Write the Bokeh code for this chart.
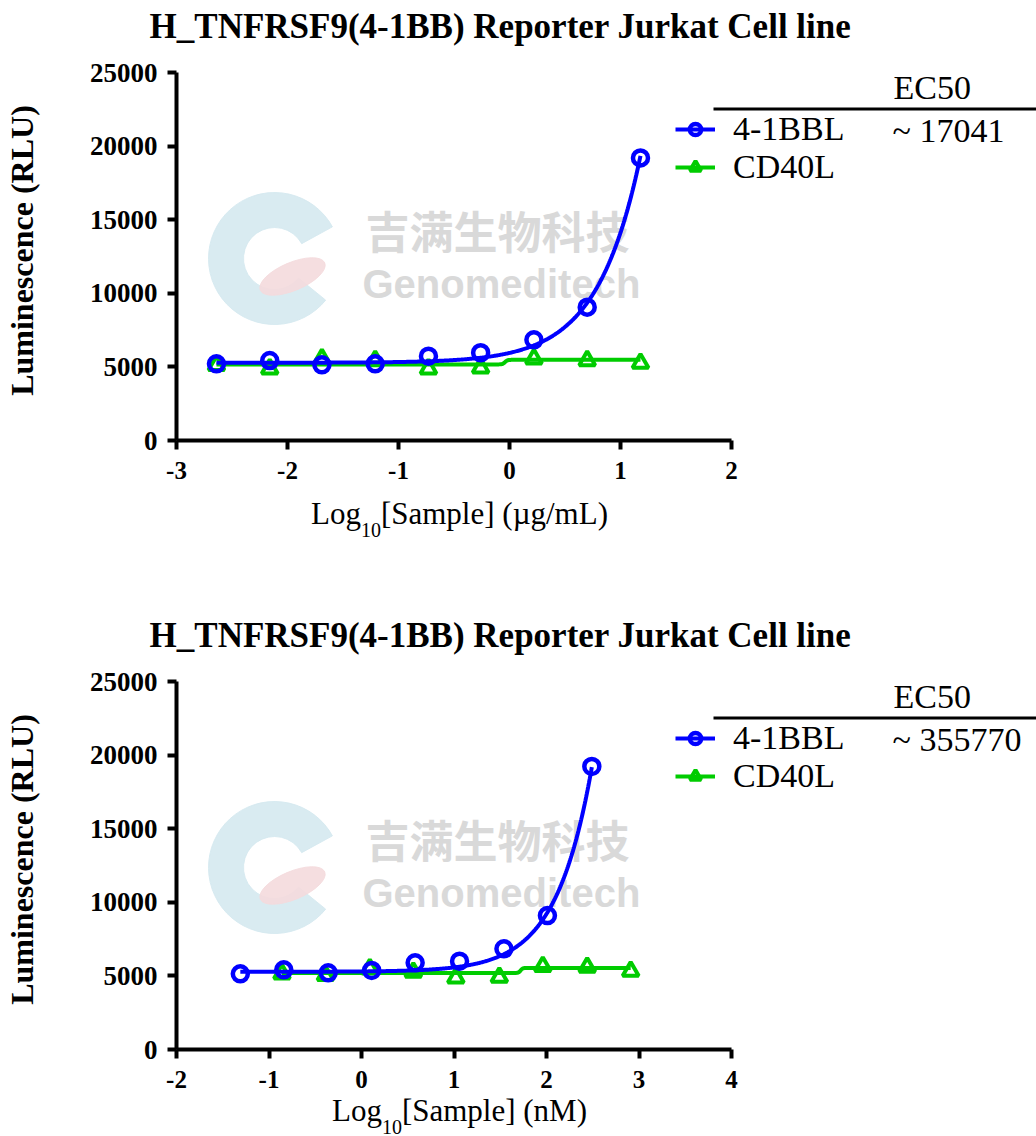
import numpy as np
from bokeh.plotting import figure
from bokeh.models import Range1d, FixedTicker, Label, BoxAnnotation, Legend, LegendItem
from bokeh.layouts import column
from bokeh.embed import file_html
from bokeh.resources import INLINE

TITLE = "H_TNFRSF9(4-1BB) Reporter Jurkat Cell line"
Y_LABEL = "Luminescence (RLU)"
y_ticks = [0, 5000, 10000, 15000, 20000, 25000]
series_names = ["4-1BBL", "CD40L"]

# ---- chart 1 : concentration in ug/mL ----
c1_x_ticks = [-3, -2, -1, 0, 1, 2]
c1_unit = "[Sample] (\u00b5g/mL)"
c1_bbl_logx = [-2.64, -2.16, -1.69, -1.21, -0.73, -0.26, 0.22, 0.70, 1.18]
c1_bbl_rlu = [5210, 5430, 5140, 5210, 5730, 5960, 6840, 9060, 19200]
c1_cd40_logx = [-2.64, -2.16, -1.69, -1.21, -0.73, -0.26, 0.22, 0.70, 1.18]
c1_cd40_rlu = [5100, 4870, 5550, 5430, 4870, 4940, 5550, 5430, 5250]
c1_ec50 = "~ 17041"
# 4PL fits: bottom, span, logEC50, hill slope
c1_bbl_fit = (5280, 3.68e7, 4.2315, 1.12)
c1_cd40_fit = (5170, 310, -0.04, 40)

# ---- chart 2 : concentration in nM ----
c2_x_ticks = [-2, -1, 0, 1, 2, 3, 4]
c2_unit = "[Sample] (nM)"
c2_bbl_logx = [-1.31, -0.84, -0.36, 0.11, 0.58, 1.06, 1.54, 2.01, 2.49]
c2_bbl_rlu = [5140, 5410, 5210, 5370, 5890, 6000, 6840, 9100, 19230]
c2_cd40_logx = [-0.86, -0.39, 0.09, 0.56, 1.02, 1.49, 1.96, 2.44, 2.91]
c2_cd40_rlu = [5140, 5030, 5480, 5250, 4870, 4910, 5640, 5590, 5320]
c2_ec50 = "~ 355770"
c2_bbl_fit = (5280, 3.73e7, 5.5512, 1.12)
c2_cd40_fit = (5200, 340, 1.72, 40)

BLUE = "#0000FF"
GREEN = "#00CC00"
SERIF = "Liberation Serif"
W = 1036
AX_L, AX_R = 176, 731      # pixel position of the x-axis ends
AX_H = 368                 # pixel height of the y-axis


def four_pl(x, fit):
    b, span, logec, h = fit
    return b + span / (1.0 + 10.0 ** ((logec - x) * h))


def make_chart(xlim, x_ticks, unit, bx, by, cx, cy, bfit, cfit, ec50,
               height, ax_top, xlabel_dy):
    ax_bot = ax_top + AX_H
    x0, x1 = xlim
    kx = (x1 - x0) / (AX_R - AX_L)
    ky = 25000.0 / AX_H
    xr = Range1d(x0 - AX_L * kx, x1 + (W - AX_R) * kx)
    yr = Range1d(-(height - ax_bot) * ky, 25000 + ax_top * ky)
    p = figure(width=W, height=height, x_range=xr, y_range=yr, title=None,
               output_backend="svg", toolbar_location=None, min_border=0)
    p.min_border_left = p.min_border_right = 0
    p.min_border_top = p.min_border_bottom = 0
    p.outline_line_color = None
    p.grid.visible = False
    p.background_fill_color = "white"

    def pos(dx, dy):
        # offsets from the top-left corner of the axes, in pixels (down = +)
        return AX_L + dx, height - (ax_top + dy)

    def label(dx, dy, text, size, bold=False, **kw):
        # dy is the bottom edge of the text box
        x, y = pos(dx, dy)
        p.add_layout(Label(x=x, y=y, x_units="screen", y_units="screen",
                           text=text, text_font=kw.pop("font", SERIF),
                           text_font_style="bold" if bold else "normal",
                           text_font_size=f"{size}px",
                           text_color=kw.pop("color", "black"), **kw))

    # watermark (underlay)
    p.annular_wedge(x=[x0 + 98 * kx], y=[25000 - 186 * ky], inner_radius=31,
                    outer_radius=66, inner_radius_units="screen",
                    outer_radius_units="screen", start_angle=0.5,
                    end_angle=5.6, color="#d5e9f0", alpha=0.9, level="underlay")
    p.ellipse(x=[x0 + 116 * kx], y=[25000 - 204 * ky], width=70, height=28,
              width_units="screen", height_units="screen", angle=0.4,
              color="#f4dadd", alpha=0.9, level="underlay")
    label(189, 189, "\u5409\u6ee1\u751f\u7269\u79d1\u6280", 44, True,
          font="Noto Sans CJK SC", color="#d9d9d9", level="underlay")
    label(186, 233, "Genomeditech", 40, True, font="Liberation Sans",
          color="#d9d9d9", level="underlay")

    # data
    cgrid = np.linspace(min(cx), max(cx), 500)
    bgrid = np.linspace(min(bx), max(bx), 500)
    cl = p.line(cgrid, four_pl(cgrid, cfit), line_color=GREEN, line_width=4)
    cs = p.scatter(cx, cy, marker="triangle", size=16, line_color=GREEN,
                   line_width=4, fill_color=None)
    bl = p.line(bgrid, four_pl(bgrid, bfit), line_color=BLUE, line_width=4)
    bs = p.scatter(bx, by, marker="circle", size=15, line_color=BLUE,
                   line_width=4.5, fill_color=None)

    # axes drawn at fixed data locations, limited to the data window
    p.xaxis.fixed_location = 0
    p.yaxis.fixed_location = x0
    p.xaxis.bounds = (x0, x1)
    p.yaxis.bounds = (0, 25000)
    p.xaxis.ticker = FixedTicker(ticks=x_ticks)
    p.yaxis.ticker = FixedTicker(ticks=y_ticks)
    p.xaxis.major_label_overrides = {t: str(t) for t in x_ticks}
    for ax in (p.xaxis, p.yaxis):
        ax.axis_line_width = 4
        ax.major_tick_line_width = 4
        ax.major_tick_out = 9
        ax.major_tick_in = 0
        ax.minor_tick_out = 0
        ax.minor_tick_in = 0
        ax.major_label_text_font = SERIF
        ax.major_label_text_font_style = "bold"
        ax.major_label_text_color = "black"
    p.xaxis.major_label_text_font_size = "25px"
    p.yaxis.major_label_text_font_size = "27px"
    p.xaxis.major_label_standoff = 12
    p.yaxis.major_label_standoff = 10

    # title and axis labels
    label(324, -26.5, TITLE, 35, True, text_align="center")
    label(-137, 178, Y_LABEL, 32, True, angle=np.pi / 2, text_align="center")
    fs = 31
    w_log = 1.611 * fs
    w_sub = 20
    rest_em = {"[Sample] (\u00b5g/mL)": 7.325, "[Sample] (nM)": 5.971}
    w_rest = rest_em[unit] * fs
    lx = 283 - (w_log + w_sub + w_rest) / 2
    label(lx, xlabel_dy, "Log", fs)
    label(lx + w_log, xlabel_dy + 6, "10", 20)
    label(lx + w_log + w_sub, xlabel_dy, unit, fs)

    # legend with EC50 column
    lgx, lgy = pos(499, 114)
    legend = Legend(items=[LegendItem(label=series_names[0], renderers=[bl, bs]),
                           LegendItem(label=series_names[1], renderers=[cl, cs])],
                    location=(lgx, lgy), glyph_width=40, glyph_height=28,
                    label_standoff=18, label_text_font=SERIF,
                    label_text_font_size="34px", label_text_color="black",
                    padding=0, margin=0, spacing=0,
                    border_line_color=None, background_fill_alpha=0)
    p.add_layout(legend)
    label(717, 33, "EC50", 34)
    bx0, by0 = pos(537, 38)
    p.add_layout(BoxAnnotation(left=bx0, right=W, bottom=by0, top=by0 + 3,
                               left_units="screen", right_units="screen",
                               bottom_units="screen", top_units="screen",
                               fill_color="black", fill_alpha=1,
                               line_color=None, level="annotation"))
    label(716, 76, ec50, 34)
    return p


p1 = make_chart((-3, 2), c1_x_ticks, c1_unit, c1_bbl_logx, c1_bbl_rlu,
                c1_cd40_logx, c1_cd40_rlu, c1_bbl_fit, c1_cd40_fit, c1_ec50,
                height=560, ax_top=72, xlabel_dy=458)
p2 = make_chart((-2, 4), c2_x_ticks, c2_unit, c2_bbl_logx, c2_bbl_rlu,
                c2_cd40_logx, c2_cd40_rlu, c2_bbl_fit, c2_cd40_fit, c2_ec50,
                height=576, ax_top=121, xlabel_dy=446)

layout = column(p1, p2, spacing=0)
open("out.html", "w").write(file_html(layout, INLINE))
